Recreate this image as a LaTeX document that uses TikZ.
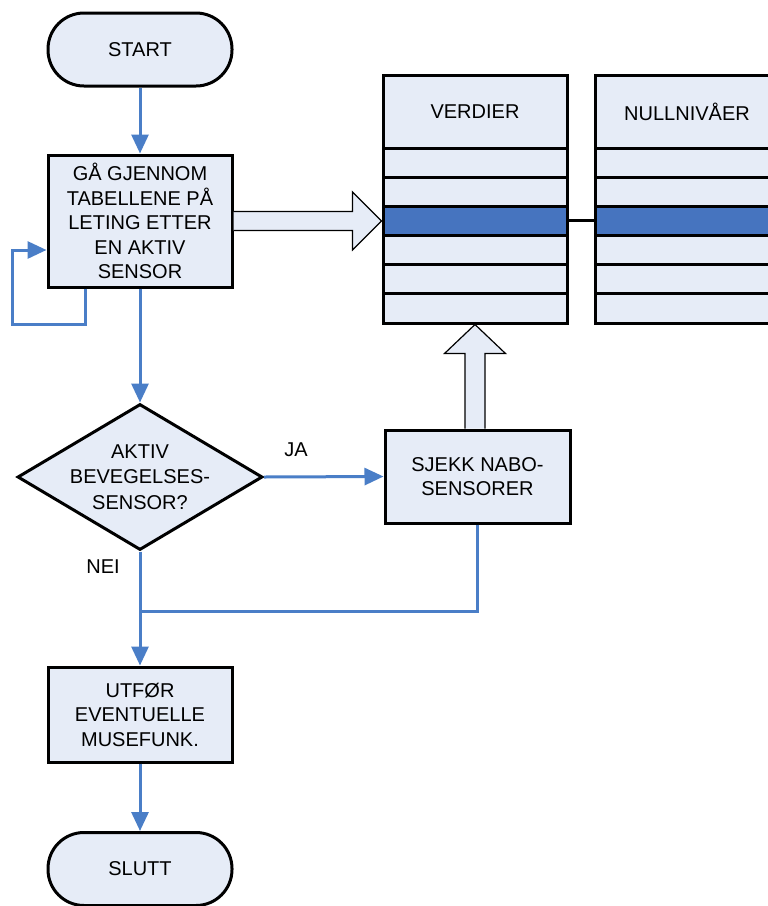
\documentclass[tikz,border=0pt]{standalone}
\usepackage{fontspec}
\setmainfont{Liberation Sans}
\usetikzlibrary{arrows.meta,shapes.geometric,calc}
\definecolor{boxfill}{HTML}{E6ECF7}
\definecolor{hilite}{HTML}{4674BF}
\definecolor{flowblue}{HTML}{4A7EC7}
\begin{document}
\begin{tikzpicture}[x=1pt,y=-1pt,
  every node/.style={font=\fontsize{20}{24.5}\selectfont, text=black},
  term/.style={draw=black, line width=3pt, fill=boxfill, rounded corners=36pt, minimum width=184pt, minimum height=73pt, inner sep=0pt},
  proc/.style={draw=black, line width=3pt, fill=boxfill, inner sep=0pt, align=center},
  dec/.style={diamond, draw=black, line width=3pt, fill=boxfill, minimum width=245pt, minimum height=146pt, inner sep=0pt},
  cell/.style={draw=black, line width=3pt, fill=boxfill, minimum width=184pt, minimum height=29.17pt, inner sep=0pt},
  flow/.style={draw=flowblue, line width=3pt, -{Triangle[width=17pt,length=19pt]}},
  bline/.style={draw=flowblue, line width=3pt},
  blockarrow/.style={draw=black, line width=1.2pt, fill=boxfill, line join=miter},
  lbl/.style={font=\fontsize{20}{24.5}\selectfont}
]
\useasboundingbox (0,0) rectangle (768,906);
\fill[white] (0,0) rectangle (768,906);
\clip (0,0) rectangle (768,906);

% flowchart nodes
\node[term] (start) at (140,49.5) {START};
\node[proc, minimum width=184pt, minimum height=132pt] (b1) at (140,221) {GÅ GJENNOM\\TABELLENE PÅ\\LETING ETTER\\EN AKTIV\\SENSOR};
\node[dec, label={[align=center, font=\fontsize{20}{25.5}\selectfont]center:AKTIV\\BEVEGELSES-\\SENSOR?}] (dia) at (140,477) {};
\node[proc, minimum width=185pt, minimum height=93pt] (sj) at (477.5,476.5) {SJEKK NABO-\\SENSORER};
\node[proc, minimum width=184pt, minimum height=95pt] (ut) at (140,714.5) {UTFØR\\EVENTUELLE\\MUSEFUNK.};
\node[term] (sl) at (140,869) {SLUTT};

% tables
\node[cell, minimum height=73pt] (vh) at (475,111.5) {VERDIER};
\node[cell, minimum height=73pt] (nh) at (687,111.5) {NULLNIVÅER};
\foreach \i in {1,2,4,5,6}{
  \node[cell] (v\i) at (475,{148+29.1667*(\i-0.5)}) {};
  \node[cell] (n\i) at (687,{148+29.1667*(\i-0.5)}) {};
}
\node[cell, fill=hilite] (v3) at (475,{148+29.1667*2.5}) {};
\node[cell, fill=hilite] (n3) at (687,{148+29.1667*2.5}) {};
\draw[line width=3pt] (v3.east) -- (n3.west);

% block arrows
\draw[blockarrow] ($(b1.east)+(0,-9.5)$) -- ($(v3.west)+(-29,-9.5)$) -- ($(v3.west)+(-29,-29)$) -- (v3.west) -- ($(v3.west)+(-29,29)$) -- ($(v3.west)+(-29,9.5)$) -- ($(b1.east)+(0,9.5)$);
\draw[blockarrow] ($(v6.south |- sj.north)+(-10,0)$) -- ($(v6.south)+(-10,29)$) -- ($(v6.south)+(-30.5,29)$) -- (v6.south) -- ($(v6.south)+(30.5,29)$) -- ($(v6.south)+(10,29)$) -- ($(v6.south |- sj.north)+(10,0)$);

% connectors
\coordinate (merge) at (140,611);
\draw[flow] (start) -- (b1);
\draw[flow] (b1) -- (dia);
\draw[flow] ([xshift=-55pt]b1.south) -- ++(0,36) -- ++(-72.5,0) |- ([yshift=-29pt]b1.west);
\draw[flow] (dia.east) -- (sj.west);
\draw[bline] (sj.south) |- (merge);
\draw[flow] (dia.south) -- (ut.north);
\draw[flow] (ut) -- (sl);

% labels
\node[lbl] (ja) at (296,450) {JA};
\node[lbl] (nei) at (103,567) {NEI};
\end{tikzpicture}
\end{document}
